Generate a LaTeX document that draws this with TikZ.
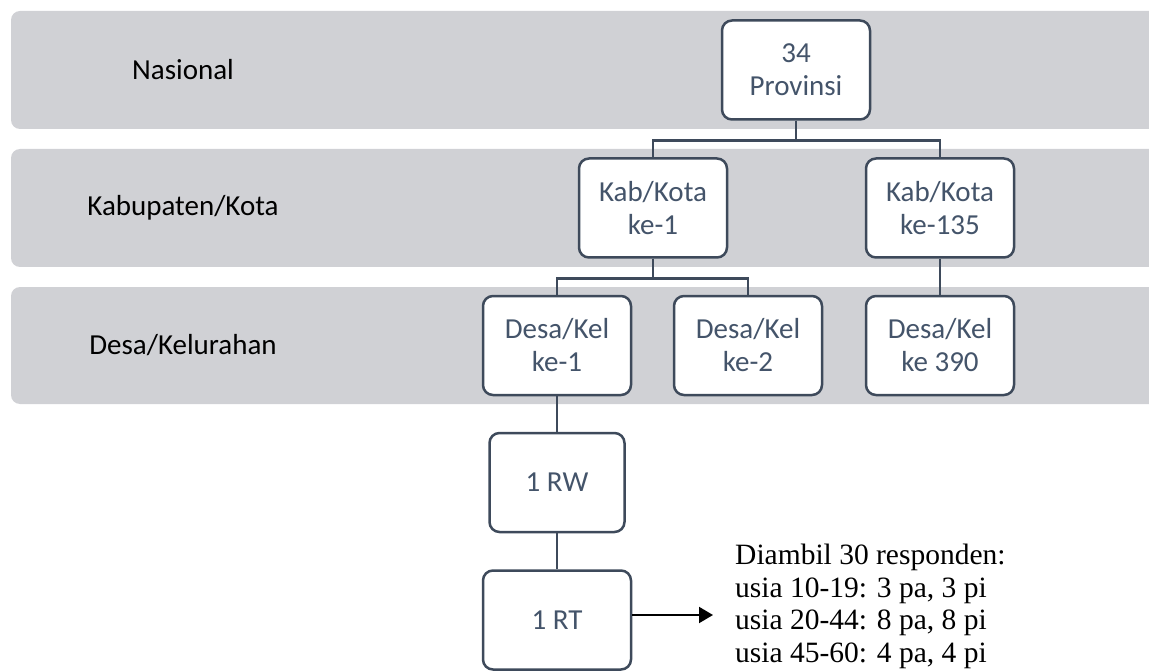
\documentclass[tikz,border=0pt]{standalone}
\usepackage{fontspec}
\setmainfont{Carlito}
\newfontfamily\serifx{Liberation Serif}
\usetikzlibrary{arrows.meta}
\definecolor{bandc}{HTML}{D0D1D5}
\definecolor{boxline}{HTML}{3E4A5B}
\definecolor{boxtext}{HTML}{44546A}
\tikzset{
  band/.style={fill=bandc, draw=none, rounded corners=9pt},
  lvl/.style={font=\fontsize{29}{33}\selectfont, text=black, inner sep=0pt},
  unit/.style={draw=boxline, line width=2.5pt, fill=white, rounded corners=10pt,
    minimum width=148pt, minimum height=99pt, align=center, inner sep=0pt,
    text=boxtext, font=\fontsize{29}{33}\selectfont},
  link/.style={draw=boxline, line width=2.5pt},
  note/.style={font=\serifx\fontsize{29.5}{32.5}\selectfont, align=left, inner sep=0pt, anchor=north west}
}
\begin{document}
\begin{tikzpicture}[x=1pt, y=-1pt]
\useasboundingbox (0,0) rectangle (1149,671);
% bands
\path[band] (11,11) rectangle (1175,129);
\path[band] (11,149) rectangle (1175,267);
\path[band] (11,287) rectangle (1175,404);
% level labels
\node[lvl] (lnas) at (183,70) {Nasional};
\node[lvl] (lkab) at (183,208) {Kabupaten/Kota};
\node[lvl] (ldes) at (183,345) {Desa/Kelurahan};
% boxes
\node[unit] (prov) at (796,70) {34\\Provinsi};
\node[unit] (kab1) at (653,208) {Kab/Kota\\ke-1};
\node[unit] (kab2) at (940,208) {Kab/Kota\\ke-135};
\node[unit] (des1) at (557,345.5) {Desa/Kel\\ke-1};
\node[unit] (des2) at (748,345.5) {Desa/Kel\\ke-2};
\node[unit] (des3) at (940,345.5) {Desa/Kel\\ke 390};
\node[unit, minimum width=135pt] (rw) at (557,482.5) {1 RW};
\node[unit] (rt) at (557,620) {1 RT};
% connectors
\draw[link] (prov.south) -- ++(0,20) -| (kab1.north);
\draw[link] (prov.south) -- ++(0,20) -| (kab2.north);
\draw[link] (kab1.south) -- ++(0,20) -| (des1.north);
\draw[link] (kab1.south) -- ++(0,20) -| (des2.north);
\draw[link] (kab2.south) -- (des3.north);
\draw[link] (des1.south) -- (rw.north);
\draw[link] (rw.south) -- (rt.north);
% note
\node[note] (txt) at (735,544) {Diambil 30 responden:\\usia 10-19: 3 pa, 3 pi\\usia 20-44: 8 pa, 8 pi\\usia 45-60: 4 pa, 4 pi};
\coordinate (tip) at (713,615);
\draw[line width=2pt, -{Triangle[length=14pt, width=16pt]}] ([yshift=5pt]rt.east) -- (tip);
\end{tikzpicture}
\end{document}
